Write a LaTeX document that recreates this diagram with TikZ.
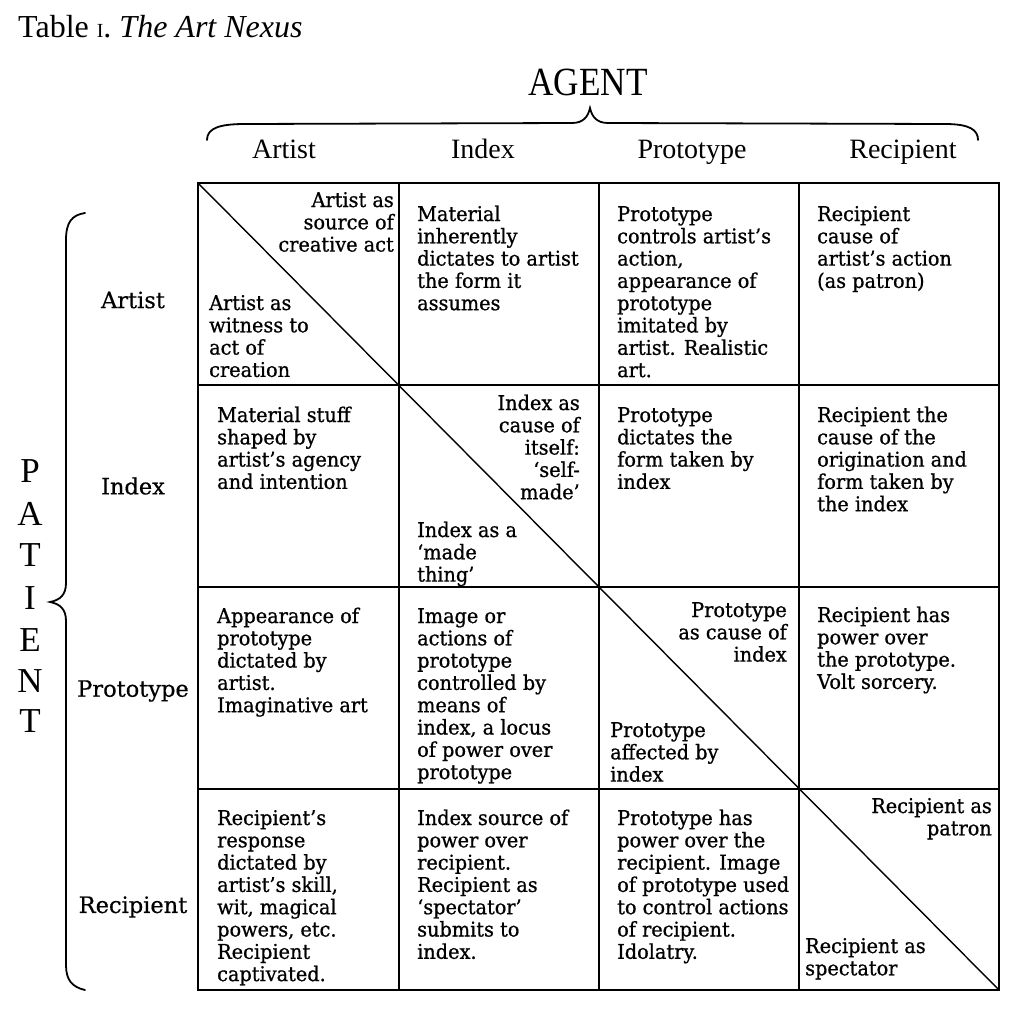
\documentclass[tikz,border=0pt]{standalone}
\usepackage{fontspec}
\setmainfont{Liberation Serif}
\newfontfamily\cellfont[FakeStretch=0.95,FakeBold=0.8]{DejaVu Serif}
\newfontfamily\rowfont[FakeBold=0.5]{DejaVu Serif}
\newcommand\celL[1]{\begin{tabular}[t]{@{}l@{}}#1\end{tabular}}
\newcommand\celR[1]{\begin{tabular}[t]{@{}r@{}}#1\end{tabular}}
\tikzset{
  gridline/.style={line width=2pt},
  diagline/.style={line width=1.4pt},
  bracel/.style={line width=1.8pt, line cap=round},
  celltxt/.style={inner sep=0pt, font=\cellfont\fontsize{20.3}{22.3}\selectfont},
  cl/.style={celltxt, anchor=base west},
  cr/.style={celltxt, anchor=base east},
  hdr/.style={inner sep=0pt, anchor=base, font=\fontsize{28}{30}\selectfont},
  rowlab/.style={inner sep=0pt, font=\rowfont\fontsize{22.5}{24}\selectfont},
  patl/.style={inner sep=0pt, font=\fontsize{35}{36}\selectfont}
}
\begin{document}
\begin{tikzpicture}[x=1pt,y=-1pt]
\useasboundingbox (0,0) rectangle (1020,1014);
% title
\node[inner sep=0pt, anchor=base west, font=\fontsize{32}{34}\selectfont] (title) at (18,38)
  {Table {\fontsize{20}{22}\selectfont I}. \textit{The Art Nexus}};
% AGENT
\node[inner sep=0pt, anchor=base, font=\fontsize{40}{44}\selectfont, xscale=0.88] (agent) at (588,96) {AGENT};
\draw[bracel] (207,140) .. controls (207,128) and (220,124) .. (245,124) -- (572,123)
  .. controls (583,123) and (588,117) .. (590,108)
  .. controls (592,117) and (597,123) .. (608,123) -- (945,124)
  .. controls (970,124) and (978,130) .. (978,140);
\node[hdr] (hA) at (284,158) {Artist};
\node[hdr] (hI) at (483,158) {Index};
\node[hdr] (hP) at (692,158) {Prototype};
\node[hdr] (hR) at (903,158) {Recipient};
% PATIENT
\draw[bracel] (85,213) .. controls (72,215) and (66,222) .. (66,240) -- (66,583)
  .. controls (66,595) and (60,600) .. (50,602)
  .. controls (60,604) and (66,609) .. (66,621) -- (66,965)
  .. controls (66,980) and (72,987) .. (85,990);
\node[patl] (p1) at (30,471) {P};
\node[patl] (p2) at (30,514) {A};
\node[patl] (p3) at (30,555) {T};
\node[patl] (p4) at (30,598) {I};
\node[patl] (p5) at (30,640) {E};
\node[patl] (p6) at (30,681) {N};
\node[patl] (p7) at (30,721) {T};
\node[rowlab] (rA) at (133,300) {Artist};
\node[rowlab] (rI) at (133,486) {Index};
\node[rowlab] (rP) at (133,691) {Prototype};
\node[rowlab] (rR) at (133,907) {Recipient};
% grid
\draw[gridline] (198,183) rectangle (999,990);
\foreach \x in {399,599,799} \draw[gridline] (\x,183) -- (\x,990);
\foreach \y in {385,587,789} \draw[gridline] (198,\y) -- (999,\y);
\draw[diagline] (198,183) -- (999,990);
% row 1
\node[cr] (c11a) at (394,207) {\celR{Artist as\\source of\\creative act}};
\node[cl] (c11b) at (209,310) {\celL{Artist as\\witness to\\act of\\creation}};
\node[cl] (c12) at (417,221) {\celL{Material\\inherently\\dictates to artist\\the form it\\assumes}};
\node[cl] (c13) at (617,221) {\celL{Prototype\\controls artist’s\\action,\\appearance of\\prototype\\imitated by\\artist. Realistic\\art.}};
\node[cl] (c14) at (817,221) {\celL{Recipient\\cause of\\artist’s action\\(as patron)}};
% row 2
\node[cl] (c21) at (217,422) {\celL{Material stuff\\shaped by\\artist’s agency\\and intention}};
\node[cr] (c22a) at (580,410) {\celR{Index as\\cause of\\itself:\\‘self-\\made’}};
\node[cl] (c22b) at (417,537) {\celL{Index as a\\‘made\\thing’}};
\node[cl] (c23) at (617,422) {\celL{Prototype\\dictates the\\form taken by\\index}};
\node[cl] (c24) at (817,422) {\celL{Recipient the\\cause of the\\origination and\\form taken by\\the index}};
% row 3
\node[cl] (c31) at (217,623) {\celL{Appearance of\\prototype\\dictated by\\artist.\\Imaginative art}};
\node[cl] (c32) at (417,623) {\celL{Image or\\actions of\\prototype\\controlled by\\means of\\index, a locus\\of power over\\prototype}};
\node[cr] (c33a) at (787,617) {\celR{Prototype\\as cause of\\index}};
\node[cl] (c33b) at (610,737) {\celL{Prototype\\affected by\\index}};
\node[cl] (c34) at (817,622) {\celL{Recipient has\\power over\\the prototype.\\Volt sorcery.}};
% row 4
\node[cl] (c41) at (217,825) {\celL{Recipient’s\\response\\dictated by\\artist’s skill,\\wit, magical\\powers, etc.\\Recipient\\captivated.}};
\node[cl] (c42) at (417,825) {\celL{Index source of\\power over\\recipient.\\Recipient as\\‘spectator’\\submits to\\index.}};
\node[cl] (c43) at (617,825) {\celL{Prototype has\\power over the\\recipient. Image\\of prototype used\\to control actions\\of recipient.\\Idolatry.}};
\node[cr] (c44a) at (992,813) {\celR{Recipient as\\patron}};
\node[cl] (c44b) at (805,953) {\celL{Recipient as\\spectator}};
\end{tikzpicture}
\end{document}
